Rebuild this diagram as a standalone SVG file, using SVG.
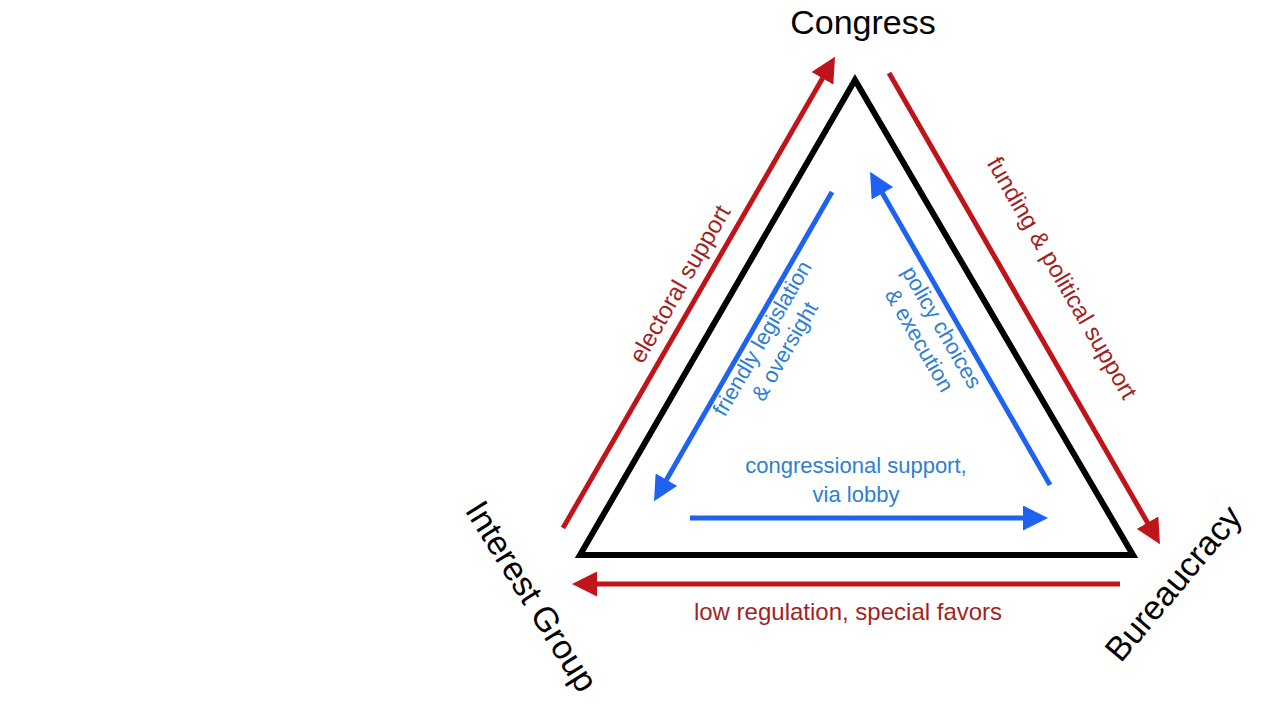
<svg xmlns="http://www.w3.org/2000/svg" width="1280" height="720" viewBox="0 0 1280 720">
<style>
text{font-family:"Liberation Sans",Arial,sans-serif;text-anchor:middle}
.n{font-size:34px;fill:#000}
.r{font-size:24px;fill:#a31f24}
.b{font-size:22px;fill:#2e7fd1}
.rl{stroke:#c0141b;stroke-width:5;fill:none}
.bl{stroke:#1f62f0;stroke-width:5;fill:none}
</style>
<defs>
<marker id="ra" viewBox="0 0 10 10" refX="2" refY="5" markerWidth="5" markerHeight="5" orient="auto" markerUnits="strokeWidth"><path d="M0,0L10,5L0,10z" fill="#c0141b"/></marker>
<marker id="ba" viewBox="0 0 10 10" refX="2" refY="5" markerWidth="5" markerHeight="5" orient="auto" markerUnits="strokeWidth"><path d="M0,0L10,5L0,10z" fill="#1f62f0"/></marker>
</defs>
<rect width="1280" height="720" fill="#fff"/>
<g id="triangle"><path d="M855,80L580,555L1133,555Z" fill="none" stroke="#000" stroke-width="6" stroke-linejoin="miter"/></g>
<g id="congress"><text class="n" x="863" y="34">Congress</text></g>
<g id="interest-group"><text class="n" transform="translate(532,596) rotate(58)" y="12">Interest Group</text></g>
<g id="bureaucracy"><text class="n" transform="translate(1173,583) rotate(-50)" y="12">Bureaucracy</text></g>
<g id="connectors">
<line class="rl" x1="563" y1="528" x2="825" y2="74" marker-end="url(#ra)"/>
<line class="rl" x1="889" y1="73" x2="1150" y2="527" marker-end="url(#ra)"/>
<line class="rl" x1="1120" y1="584" x2="592" y2="584" marker-end="url(#ra)"/>
<line class="bl" x1="832" y1="192" x2="664" y2="484" marker-end="url(#ba)"/>
<line class="bl" x1="1050" y1="485" x2="880" y2="189" marker-end="url(#ba)"/>
<line class="bl" x1="690" y1="518" x2="1028" y2="518" marker-end="url(#ba)"/>
<text class="r" transform="translate(680,284) rotate(-60)" y="8">electoral support</text>
<text class="r" transform="translate(1062,278) rotate(60)" y="8">funding &amp; political support</text>
<text class="r" x="848" y="620">low regulation, special favors</text>
<text class="b" transform="translate(772,344) rotate(-60)" y="-4">friendly legislation</text>
<text class="b" transform="translate(772,344) rotate(-60)" y="22">&amp; oversight</text>
<text class="b" transform="translate(932,333) rotate(60)" y="-4">policy choices</text>
<text class="b" transform="translate(932,333) rotate(60)" y="22">&amp; execution</text>
<text class="b" x="856" y="473">congressional support,</text>
<text class="b" x="856" y="502">via lobby</text>
</g>
</svg>
